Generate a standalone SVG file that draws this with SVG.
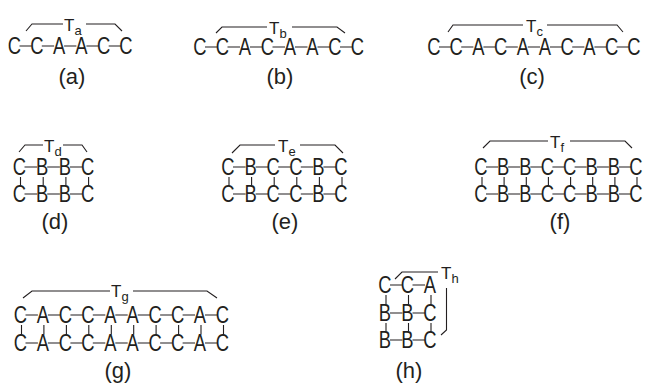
<svg xmlns="http://www.w3.org/2000/svg" width="645" height="383" viewBox="0 0 645 383">
<style>
text{font-family:"Liberation Sans",Arial,sans-serif;fill:#231f20}
.n{font-size:23px;text-anchor:middle;transform-box:fill-box;transform-origin:center;transform:scaleX(.8)}
.lb{font-size:22px;text-anchor:middle}
.t{font-size:17px}
.t tspan{font-size:13px}
.c path{fill:none;stroke:#231f20;stroke-width:1.1}
</style>
<rect width="645" height="383" fill="#fff"/>
<g class="c" id="connectors">
<path d="M19.5 46H31.8M41.8 46H54.1M64.1 46H76.4M86.4 46H98.7M108.7 46H121"/>
<path d="M205 47H217.5M227.5 47H240M250 47H262.5M272.5 47H285M295 47H307.5M317.5 47H330M340 47H352.5"/>
<path d="M439 47H451.2M461.2 47H473.4M483.4 47H495.6M505.6 47H517.8M527.8 47H540M550 47H562.2M572.2 47H584.4M594.4 47H606.6M616.6 47H628.8"/>
<path d="M24.5 167H37.2M47.2 167H59.9M69.9 167H82.6M24.5 194H37.2M47.2 194H59.9M69.9 194H82.6M20.5 177V185.5M43.2 177V185.5M65.9 177V185.5M88.6 177V185.5"/>
<path d="M233 167H245.6M255.6 167H268.2M278.2 167H290.8M300.8 167H313.4M323.4 167H336M233 194H245.6M255.6 194H268.2M278.2 194H290.8M300.8 194H313.4M323.4 194H336M229 177V185.5M251.6 177V185.5M274.2 177V185.5M296.8 177V185.5M319.4 177V185.5M342 177V185.5"/>
<path d="M486 167H498.1M508.1 167H520.3M530.3 167H542.4M552.4 167H564.6M574.6 167H586.7M596.7 167H608.9M618.9 167H631M486 194H498.1M508.1 194H520.3M530.3 194H542.4M552.4 194H564.6M574.6 194H586.7M596.7 194H608.9M618.9 194H631M482 177V185.5M504.1 177V185.5M526.3 177V185.5M548.4 177V185.5M570.6 177V185.5M592.7 177V185.5M614.9 177V185.5M637 177V185.5"/>
<path d="M25.5 315H37.9M47.9 315H60.4M70.4 315H82.8M92.8 315H105.3M115.3 315H127.7M137.7 315H150.1M160.1 315H172.6M182.6 315H195M205 315H217.5M25.5 343H37.9M47.9 343H60.4M70.4 343H82.8M92.8 343H105.3M115.3 343H127.7M137.7 343H150.1M160.1 343H172.6M182.6 343H195M205 343H217.5M21.5 325V334.5M43.9 325V334.5M66.4 325V334.5M88.8 325V334.5M111.3 325V334.5M133.7 325V334.5M156.1 325V334.5M178.6 325V334.5M201 325V334.5M223.5 325V334.5"/>
<path d="M390 285H402.5M412.5 285H425M390 313H402.5M412.5 313H425M390 340H402.5M412.5 340H425M386 295V304.5M408.5 295V304.5M431 295V304.5M386 323V331.5M408.5 323V331.5M431 323V331.5"/>
<path d="M26 31L32 24H63M86 24H115L122 31"/>
<path d="M216 33L222 27H267M292 27H337L345 33"/>
<path d="M448 32L453 25H523M547 25H617L623 32"/>
<path d="M19 152L25 145H43M63 145H82L87 152"/>
<path d="M232 153L240 145H275M300 145H335L343 153"/>
<path d="M483 148L490 141H548M570 141H625L632 148"/>
<path d="M23 298L32 291H110M133 291H207L217 298"/>
<path d="M395 279L402 272H438M446.5 288V330L441 335"/>
</g>
<g id="fig-a">
<text class="n" x="14.5" y="54">C</text><text class="n" x="36.8" y="54">C</text><text class="n" x="59.1" y="54">A</text><text class="n" x="81.4" y="54">A</text><text class="n" x="103.7" y="54">C</text><text class="n" x="126" y="54">C</text>
<text class="t" x="64" y="31">T<tspan dy="4">a</tspan></text>
<text class="lb" x="72" y="84">(a)</text>
</g>
<g id="fig-b">
<text class="n" x="200" y="55">C</text><text class="n" x="222.5" y="55">C</text><text class="n" x="245" y="55">A</text><text class="n" x="267.5" y="55">C</text><text class="n" x="290" y="55">A</text><text class="n" x="312.5" y="55">A</text><text class="n" x="335" y="55">C</text><text class="n" x="357.5" y="55">C</text>
<text class="t" x="269" y="34">T<tspan dy="4">b</tspan></text>
<text class="lb" x="280" y="84">(b)</text>
</g>
<g id="fig-c">
<text class="n" x="434" y="55">C</text><text class="n" x="456.2" y="55">C</text><text class="n" x="478.4" y="55">A</text><text class="n" x="500.6" y="55">C</text><text class="n" x="522.8" y="55">A</text><text class="n" x="545" y="55">A</text><text class="n" x="567.2" y="55">C</text><text class="n" x="589.4" y="55">A</text><text class="n" x="611.6" y="55">C</text><text class="n" x="633.8" y="55">C</text>
<text class="t" x="526" y="32">T<tspan dy="4">c</tspan></text>
<text class="lb" x="532" y="84">(c)</text>
</g>
<g id="fig-d">
<text class="n" x="19.5" y="175">C</text><text class="n" x="42.2" y="175">B</text><text class="n" x="64.9" y="175">B</text><text class="n" x="87.6" y="175">C</text>
<text class="n" x="19.5" y="202">C</text><text class="n" x="42.2" y="202">B</text><text class="n" x="64.9" y="202">B</text><text class="n" x="87.6" y="202">C</text>
<text class="t" x="44" y="152">T<tspan dy="4">d</tspan></text>
<text class="lb" x="55" y="229">(d)</text>
</g>
<g id="fig-e">
<text class="n" x="228" y="175">C</text><text class="n" x="250.6" y="175">B</text><text class="n" x="273.2" y="175">C</text><text class="n" x="295.8" y="175">C</text><text class="n" x="318.4" y="175">B</text><text class="n" x="341" y="175">C</text>
<text class="n" x="228" y="202">C</text><text class="n" x="250.6" y="202">B</text><text class="n" x="273.2" y="202">C</text><text class="n" x="295.8" y="202">C</text><text class="n" x="318.4" y="202">B</text><text class="n" x="341" y="202">C</text>
<text class="t" x="278" y="152">T<tspan dy="4">e</tspan></text>
<text class="lb" x="285" y="229">(e)</text>
</g>
<g id="fig-f">
<text class="n" x="481" y="175">C</text><text class="n" x="503.1" y="175">B</text><text class="n" x="525.3" y="175">B</text><text class="n" x="547.4" y="175">C</text><text class="n" x="569.6" y="175">C</text><text class="n" x="591.7" y="175">B</text><text class="n" x="613.9" y="175">B</text><text class="n" x="636" y="175">C</text>
<text class="n" x="481" y="202">C</text><text class="n" x="503.1" y="202">B</text><text class="n" x="525.3" y="202">B</text><text class="n" x="547.4" y="202">C</text><text class="n" x="569.6" y="202">C</text><text class="n" x="591.7" y="202">B</text><text class="n" x="613.9" y="202">B</text><text class="n" x="636" y="202">C</text>
<text class="t" x="550" y="148">T<tspan dy="4">f</tspan></text>
<text class="lb" x="560" y="229">(f)</text>
</g>
<g id="fig-g">
<text class="n" x="20.5" y="323">C</text><text class="n" x="42.9" y="323">A</text><text class="n" x="65.4" y="323">C</text><text class="n" x="87.8" y="323">C</text><text class="n" x="110.3" y="323">A</text><text class="n" x="132.7" y="323">A</text><text class="n" x="155.1" y="323">C</text><text class="n" x="177.6" y="323">C</text><text class="n" x="200" y="323">A</text><text class="n" x="222.5" y="323">C</text>
<text class="n" x="20.5" y="351">C</text><text class="n" x="42.9" y="351">A</text><text class="n" x="65.4" y="351">C</text><text class="n" x="87.8" y="351">C</text><text class="n" x="110.3" y="351">A</text><text class="n" x="132.7" y="351">A</text><text class="n" x="155.1" y="351">C</text><text class="n" x="177.6" y="351">C</text><text class="n" x="200" y="351">A</text><text class="n" x="222.5" y="351">C</text>
<text class="t" x="111" y="297">T<tspan dy="4">g</tspan></text>
<text class="lb" x="118" y="378">(g)</text>
</g>
<g id="fig-h">
<text class="n" x="385" y="293">C</text><text class="n" x="407.5" y="293">C</text><text class="n" x="430" y="293">A</text>
<text class="n" x="385" y="321">B</text><text class="n" x="407.5" y="321">B</text><text class="n" x="430" y="321">C</text>
<text class="n" x="385" y="348">B</text><text class="n" x="407.5" y="348">B</text><text class="n" x="430" y="348">C</text>
<text class="t" x="441" y="279">T<tspan dy="4">h</tspan></text>
<text class="lb" x="409" y="378">(h)</text>
</g>
</svg>
